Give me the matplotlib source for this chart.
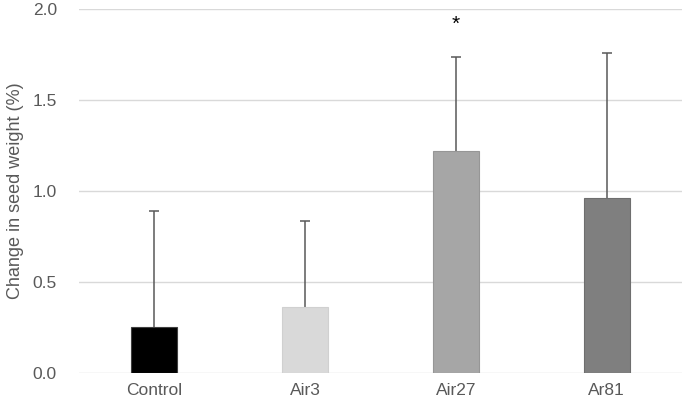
import numpy as np
import matplotlib
matplotlib.use("Agg")
import matplotlib.pyplot as plt

plt.rcParams["font.family"] = ["Liberation Sans", "DejaVu Sans"]

groups = ["Control", "Air3", "Air27", "Ar81"]
means = [0.25, 0.36, 1.22, 0.96]
errs = [0.64, 0.475, 0.515, 0.80]
colors = ["#000000", "#d9d9d9", "#a6a6a6", "#7f7f7f"]
edges = ["#404040", "#d0d0d0", "#969696", "#6e6e6e"]
signif = ["", "", "*", ""]

_C_TXT = "#595959"
_C_GRID = "#d9d9d9"

fig = plt.figure(figsize=(6.85, 4.04), dpi=100)
ax = fig.add_axes([0.1153, 0.0767, 0.8803, 0.9013])

x = np.arange(len(groups))
ax.bar(x, means, width=0.305, color=colors, edgecolor=edges, linewidth=0.8, zorder=3)
# symmetric bars drawn below the columns: the lower half hides inside them
ax.errorbar(x, means, yerr=errs, fmt="none",
            ecolor=_C_TXT, elinewidth=1.1, capsize=3.6, capthick=1.1, zorder=2)
for xi, s in zip(x, signif):
    if s:
        ax.text(xi, 1.915, s, ha="center", va="center", fontsize=15, color="black")

ax.set_xlim(-0.5, len(groups) - 0.5)
ax.set_ylim(0, 2.0)
ax.set_yticks([0, 0.5, 1.0, 1.5, 2.0])
ax.set_yticklabels(["0.0", "0.5", "1.0", "1.5", "2.0"])
ax.set_xticks(x)
ax.set_xticklabels(groups)
ax.tick_params(length=0, labelsize=12.5, labelcolor=_C_TXT, pad=7)
ax.tick_params(axis="y", pad=16)
ax.yaxis.grid(True, color=_C_GRID, linewidth=1.0, zorder=0)
ax.set_axisbelow(True)
for s in ("top", "right", "left", "bottom"):
    ax.spines[s].set_visible(False)
ax.set_ylabel("Change in seed weight (%)", fontsize=13, color=_C_TXT, labelpad=6)

fig.savefig("out.png", dpi=100)
plt.close(fig)
